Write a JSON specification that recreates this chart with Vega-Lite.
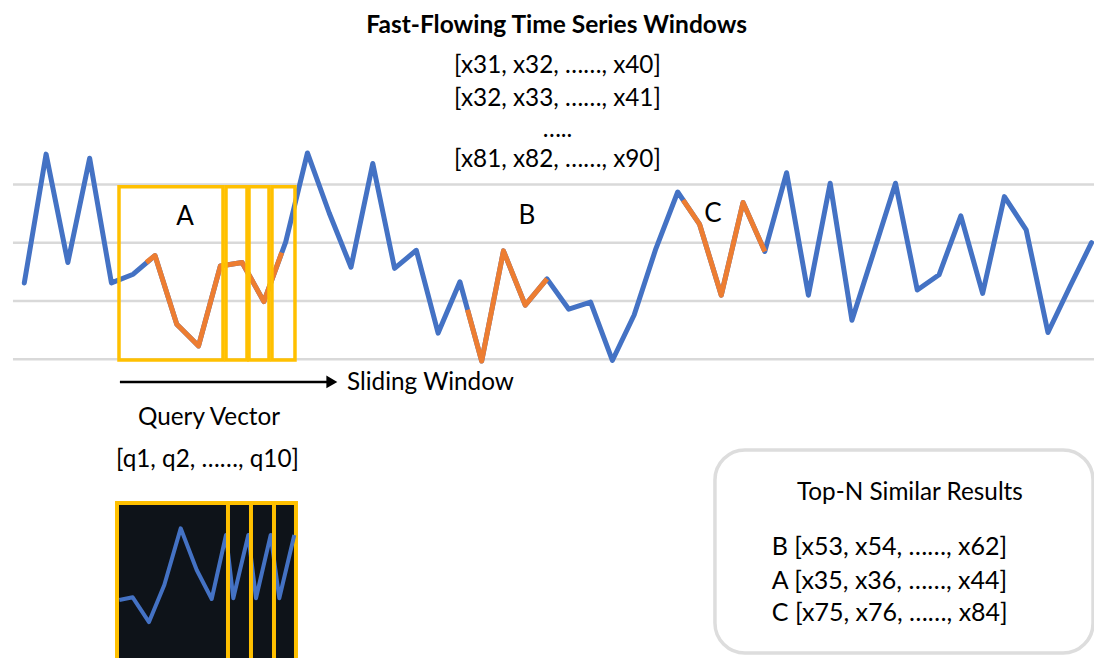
{
  "$schema": "https://vega.github.io/schema/vega-lite/v6.json",
  "width": 1094,
  "height": 658,
  "padding": 0,
  "autosize": {"type": "none"},
  "background": "white",
  "config": {"view": {"stroke": null}, "axis": {"disable": true}, "font": "Lato"},
  "datasets": {
    "series": [
      {"t":0,"v":13.1},{"t":1,"v":35.2},{"t":2,"v":16.6},{"t":3,"v":34.5},{"t":4,"v":13.1},
      {"t":5,"v":14.6},{"t":6,"v":17.8},{"t":7,"v":6.0},{"t":8,"v":2.3},{"t":9,"v":16.0},
      {"t":10,"v":16.6},{"t":11,"v":9.9},{"t":12,"v":20.1},{"t":13,"v":35.4},{"t":14,"v":25.1},
      {"t":15,"v":15.8},{"t":16,"v":33.6},{"t":17,"v":15.6},{"t":18,"v":18.7},{"t":19,"v":4.5},
      {"t":20,"v":13.3},{"t":21,"v":-0.3},{"t":22,"v":18.6},{"t":23,"v":9.3},{"t":24,"v":13.8},
      {"t":25,"v":8.6},{"t":26,"v":9.8},{"t":27,"v":-0.2},{"t":28,"v":7.6},{"t":29,"v":19.0},
      {"t":30,"v":28.7},{"t":31,"v":23.2},{"t":32,"v":11.0},{"t":33,"v":26.9},{"t":34,"v":18.5},
      {"t":35,"v":32.0},{"t":36,"v":11.0},{"t":37,"v":30.2},{"t":38,"v":6.7},{"t":39,"v":18.4},
      {"t":40,"v":30.2},{"t":41,"v":11.9},{"t":42,"v":14.5},{"t":43,"v":24.6},{"t":44,"v":11.3},
      {"t":45,"v":27.9},{"t":46,"v":22.2},{"t":47,"v":4.6},{"t":48,"v":12.4},{"t":49,"v":20.0}
    ],
    "highlight": [
      {"seg":"A","t":5.6,"v":16.6},{"seg":"A","t":6,"v":17.8},{"seg":"A","t":7,"v":6.0},{"seg":"A","t":8,"v":2.3},
      {"seg":"A","t":9,"v":16.0},{"seg":"A","t":10,"v":16.6},{"seg":"A","t":11,"v":9.9},{"seg":"A","t":11.82,"v":18.3},
      {"seg":"B","t":20.35,"v":8.5},{"seg":"B","t":21,"v":-0.3},{"seg":"B","t":22,"v":18.6},{"seg":"B","t":23,"v":9.3},{"seg":"B","t":24,"v":13.8},
      {"seg":"C","t":30.25,"v":27.3},{"seg":"C","t":31,"v":23.2},{"seg":"C","t":32,"v":11.0},{"seg":"C","t":33,"v":26.9},{"seg":"C","t":34,"v":18.5}
    ],
    "grid": [
      {"t":-0.52,"t2":49.6,"v":0},{"t":-0.52,"t2":49.6,"v":10},{"t":-0.52,"t2":49.6,"v":20},{"t":-0.52,"t2":49.6,"v":30}
    ],
    "windows": [
      {"t":4.348,"t2":9.123,"v":29.6,"v2":-0.12},
      {"t":9.261,"t2":10.225,"v":29.6,"v2":-0.12},
      {"t":10.317,"t2":11.235,"v":29.6,"v2":-0.12},
      {"t":11.372,"t2":12.428,"v":29.6,"v2":-0.12}
    ],
    "arrow": [{"t":4.39,"t2":13.9,"v":-3.88}],
    "arrowhead": [{"t":14.12,"v":-3.88}],
    "titleText": [{"t":24.44,"v":57.2,"label":"Fast-Flowing Time Series Windows"}],
    "centerText": [
      {"t":24.48,"v":50.31,"label":"[x31, x32, ……, x40]"},
      {"t":24.48,"v":44.65,"label":"[x32, x33, ……, x41]"},
      {"t":24.48,"v":39.28,"label":"….."},
      {"t":24.48,"v":34.13,"label":"[x81, x82, ……, x90]"},
      {"t":8.48,"v":-10.07,"label":"Query Vector"},
      {"t":8.41,"v":-17.28,"label":"[q1, q2, ……, q10]"}
    ],
    "letters": [
      {"t":7.38,"v":24.41,"label":"A"},
      {"t":23.08,"v":24.58,"label":"B"},
      {"t":31.62,"v":24.92,"label":"C"}
    ],
    "leftText": [
      {"t":14.82,"v":-4.07,"label":"Sliding Window"}
    ],
    "panelTitle": [{"t":40.66,"v":-22.93,"label":"Top-N Similar Results"}],
    "results": [
      {"t":34.32,"v":-32.17,"label":"B [x53, x54, ……, x62]"},
      {"t":34.32,"v":-38.0,"label":"A [x35, x36, ……, x44]"},
      {"t":34.32,"v":-43.5,"label":"C [x75, x76, ……, x84]"}
    ],
    "insetBox": [{"t":4.256,"t2":12.474,"v":-24.65,"v2":-60}],
    "insetRules": [
      {"t":9.352,"v":-24.65,"v2":-60},{"t":10.408,"v":-24.65,"v2":-60},{"t":11.464,"v":-24.65,"v2":-60}
    ],
    "insetLine": [
      {"t":4.362,"v":-41.29},{"t":4.977,"v":-40.82},{"t":5.725,"v":-45.06},{"t":6.428,"v":-38.71},
      {"t":7.181,"v":-28.99},{"t":7.916,"v":-36.14},{"t":8.604,"v":-41.11},{"t":9.261,"v":-30.14},
      {"t":9.596,"v":-40.99},{"t":10.285,"v":-30.14},{"t":10.638,"v":-40.99},{"t":11.313,"v":-30.14},
      {"t":11.708,"v":-40.99},{"t":12.397,"v":-30.14}
    ],
    "panel": [{"t":31.71,"t2":49.07,"v":-15.56,"v2":-50.38}]
  },
  "encoding": {
    "x": {"field": "t", "type": "quantitative", "scale": {"domain": [-1.1157, 49.114], "nice": false, "zero": false}, "axis": null},
    "y": {"field": "v", "type": "quantitative", "scale": {"domain": [-51.23, 61.63], "nice": false, "zero": false}, "axis": null}
  },
  "layer": [
    {"data": {"name": "grid"}, "mark": {"type": "rule", "color": "#D9D9D9", "strokeWidth": 2.5},
     "encoding": {"x2": {"field": "t2"}}},
    {"data": {"name": "series"}, "mark": {"type": "line", "color": "#4472C4", "strokeWidth": 5, "strokeJoin": "round", "strokeCap": "round"}},
    {"data": {"name": "highlight"}, "mark": {"type": "line", "color": "#ED7D31", "strokeWidth": 5, "strokeJoin": "round"},
     "encoding": {"detail": {"field": "seg"}}},
    {"data": {"name": "windows"}, "mark": {"type": "rect", "fill": null, "fillOpacity": 0, "stroke": "#FFC000", "strokeWidth": 3.5},
     "encoding": {"x2": {"field": "t2"}, "y2": {"field": "v2"}}},
    {"data": {"name": "arrow"}, "mark": {"type": "rule", "color": "black", "strokeWidth": 2.5},
     "encoding": {"x2": {"field": "t2"}}},
    {"data": {"name": "arrowhead"}, "mark": {"type": "point", "shape": "triangle-right", "filled": true, "color": "black", "size": 160, "opacity": 1}},
    {"data": {"name": "titleText"}, "mark": {"type": "text", "fontSize": 24.5, "fontWeight": "bold", "color": "black", "align": "center", "baseline": "middle"},
     "encoding": {"text": {"field": "label"}}},
    {"data": {"name": "centerText"}, "mark": {"type": "text", "fontSize": 24.3, "color": "black", "align": "center", "baseline": "middle"},
     "encoding": {"text": {"field": "label"}}},
    {"data": {"name": "letters"}, "mark": {"type": "text", "fontSize": 26, "color": "black", "align": "center", "baseline": "middle"},
     "encoding": {"text": {"field": "label"}}},
    {"data": {"name": "leftText"}, "mark": {"type": "text", "fontSize": 24.3, "color": "black", "align": "left", "baseline": "middle"},
     "encoding": {"text": {"field": "label"}}},
    {"data": {"name": "insetBox"}, "mark": {"type": "rect", "fill": "#0E1319", "stroke": "#FFC000", "strokeWidth": 4},
     "encoding": {"x2": {"field": "t2"}, "y2": {"field": "v2"}}},
    {"data": {"name": "insetLine"}, "mark": {"type": "line", "color": "#4472C4", "strokeWidth": 4, "strokeJoin": "round"}},
    {"data": {"name": "insetRules"}, "mark": {"type": "rule", "color": "#FFC000", "strokeWidth": 4},
     "encoding": {"y2": {"field": "v2"}}},
    {"data": {"name": "panel"}, "mark": {"type": "rect", "fill": "white", "stroke": "#DDDDDD", "strokeWidth": 3.5, "cornerRadius": 30},
     "encoding": {"x2": {"field": "t2"}, "y2": {"field": "v2"}}},
    {"data": {"name": "panelTitle"}, "mark": {"type": "text", "fontSize": 24.3, "color": "black", "align": "center", "baseline": "middle"},
     "encoding": {"text": {"field": "label"}}},
    {"data": {"name": "results"}, "mark": {"type": "text", "fontSize": 25, "color": "black", "align": "left", "baseline": "middle"},
     "encoding": {"text": {"field": "label"}}}
  ]
}
